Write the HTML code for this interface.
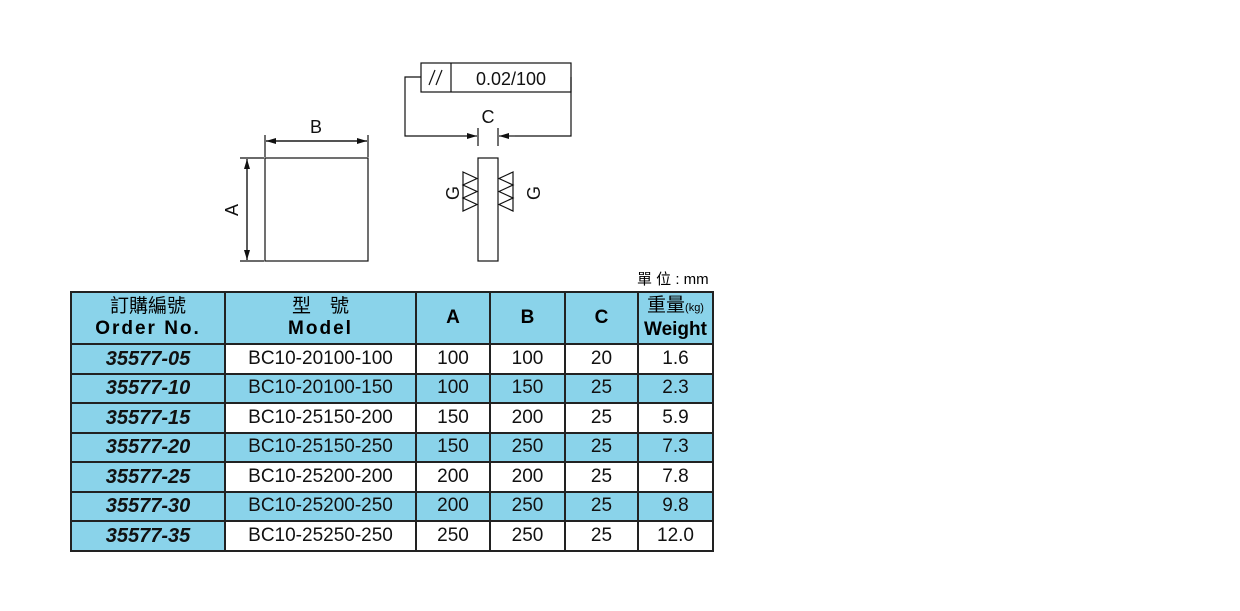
<!DOCTYPE html>
<html><head><meta charset="utf-8"><style>
body{margin:0;background:#fff;width:1240px;height:611px;overflow:hidden;position:relative;font-family:"Liberation Sans","Noto Sans CJK TC",sans-serif}
svg{position:absolute;left:0;top:0}
table{position:absolute;left:70px;top:291px;border-collapse:collapse;table-layout:fixed}
td{border:2px solid #222;text-align:center;padding:0;font-size:19px;color:#111;height:27.5px;line-height:20px}
.b{background:#8ad3ea}
.o{font-weight:bold;font-style:italic;font-size:20px}
th{border:2px solid #222;background:#8ad3ea;font-weight:bold;height:50px;font-size:19px;line-height:22px;padding:0}
.u{position:absolute;left:637px;top:268px;font-size:15px}
</style></head><body>
<svg width="1240" height="611" viewBox="0 0 1240 611" font-family="Liberation Sans, sans-serif">
<defs><marker id="ar" markerWidth="10" markerHeight="6" refX="10" refY="3" orient="auto" markerUnits="userSpaceOnUse"><path d="M0,0 L10,3 L0,6z" fill="#111"/></marker></defs>
<g stroke="#111" stroke-width="1.2" fill="none">
<rect x="265" y="158" width="103" height="103"/>
<line x1="265" y1="135" x2="265" y2="157"/><line x1="368" y1="135" x2="368" y2="157"/>
<line x1="266" y1="141" x2="367" y2="141" marker-end="url(#ar)"/><line x1="367" y1="141" x2="266" y2="141" marker-end="url(#ar)"/>
<line x1="240" y1="158" x2="264" y2="158"/><line x1="240" y1="261" x2="264" y2="261"/>
<line x1="247" y1="159" x2="247" y2="260" marker-end="url(#ar)"/><line x1="247" y1="260" x2="247" y2="159" marker-end="url(#ar)"/>
<rect x="478" y="158" width="20" height="103"/>
<rect x="421" y="63" width="150" height="29"/><line x1="451" y1="63" x2="451" y2="92"/>
<polyline points="421,77 405,77 405,136 460,136"/><line x1="460" y1="136" x2="477" y2="136" marker-end="url(#ar)"/>
<polyline points="571,77 571,77 571,136 515,136"/><line x1="515" y1="136" x2="499" y2="136" marker-end="url(#ar)"/>
<line x1="478" y1="128" x2="478" y2="146"/><line x1="498" y1="128" x2="498" y2="146"/>
<path d="M463,172 L477,178.5 L463,185 L477,191.5 L463,198 L477,204.5 L463,211 Z M463,172 L463,211"/>
<path d="M513,172 L499,178.5 L513,185 L499,191.5 L513,198 L499,204.5 L513,211 Z M513,172 L513,211"/>
<line x1="429" y1="85" x2="435" y2="70"/><line x1="436" y1="85" x2="442" y2="70"/>
</g>
<g fill="#111" font-size="18">
<text x="316" y="133" text-anchor="middle">B</text>
<text transform="translate(238,210) rotate(-90)" text-anchor="middle">A</text>
<text x="488" y="123" text-anchor="middle">C</text>
<text transform="translate(459,193) rotate(-90)" text-anchor="middle">G</text>
<text transform="translate(540,193) rotate(-90)" text-anchor="middle">G</text>
<text x="511" y="85" text-anchor="middle">0.02/100</text>
</g>
</svg>
<div class="u">單 位 : mm</div>
<table>
<colgroup><col style="width:154px"><col style="width:191px"><col style="width:74px"><col style="width:75px"><col style="width:73px"><col style="width:75px"></colgroup>
<tr><th><span style="font-weight:normal">訂購編號</span><br><span style="letter-spacing:2px">Order No.</span></th><th><span style="font-weight:normal">型　號</span><br><span style="letter-spacing:2px">Model</span></th><th>A</th><th>B</th><th>C</th><th><span style="font-weight:normal">重量<small style="font-size:11px">(kg)</small></span><br>Weight</th></tr>
<tr><td class="b o">35577-05</td><td>BC10-20100-100</td><td>100</td><td>100</td><td>20</td><td>1.6</td></tr>
<tr class="b"><td class="o">35577-10</td><td>BC10-20100-150</td><td>100</td><td>150</td><td>25</td><td>2.3</td></tr>
<tr><td class="b o">35577-15</td><td>BC10-25150-200</td><td>150</td><td>200</td><td>25</td><td>5.9</td></tr>
<tr class="b"><td class="o">35577-20</td><td>BC10-25150-250</td><td>150</td><td>250</td><td>25</td><td>7.3</td></tr>
<tr><td class="b o">35577-25</td><td>BC10-25200-200</td><td>200</td><td>200</td><td>25</td><td>7.8</td></tr>
<tr class="b"><td class="o">35577-30</td><td>BC10-25200-250</td><td>200</td><td>250</td><td>25</td><td>9.8</td></tr>
<tr><td class="b o">35577-35</td><td>BC10-25250-250</td><td>250</td><td>250</td><td>25</td><td>12.0</td></tr>
</table>
</body></html>
